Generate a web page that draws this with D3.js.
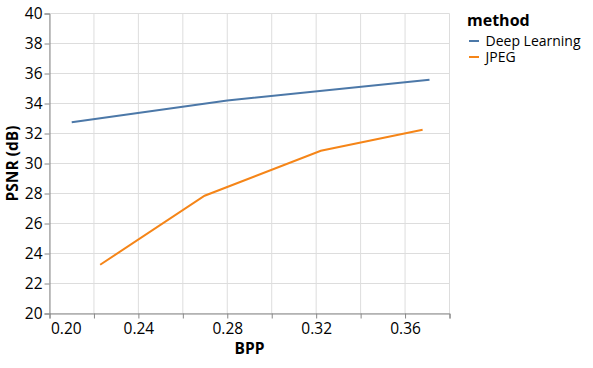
<!DOCTYPE html>
<html><head><meta charset="utf-8">
<script src="https://cdn.jsdelivr.net/npm/d3@7"></script>
<style>body{margin:0;background:#fff}svg{display:block}text{font-family:"Open Sans","Noto Sans",sans-serif;fill:#000}</style>
</head><body>
<svg id="c" width="593" height="368"></svg>
<script>
const methods = ["Deep Learning", "JPEG"];
const colors = ["#4c78a8", "#f58518"];
const dlBpp = [0.21, 0.28, 0.371];
const dlPsnr = [32.75, 34.2, 35.58];
const jpegBpp = [0.2228, 0.2698, 0.3221, 0.3679];
const jpegPsnr = [23.25, 27.85, 30.85, 32.25];
const xTicks = [0.20,0.22,0.24,0.26,0.28,0.30,0.32,0.34,0.36,0.38];
const xLabels = [0.20,0.24,0.28,0.32,0.36];
const yTicks = [20,22,24,26,28,30,32,34,36,38,40];

const svg = d3.select("#c");
const L=49.5, R=449.5, T=13.5, B=313.5;
const x = d3.scaleLinear().domain([0.20,0.38]).range([L,R]);
const y = d3.scaleLinear().domain([20,40]).range([B,T]);
const g = svg.append("g");
// grid
g.selectAll(".gx").data(xTicks).join("line").attr("x1",d=>x(d)).attr("x2",d=>x(d)).attr("y1",T).attr("y2",B).attr("stroke","#ddd");
g.selectAll(".gy").data(yTicks).join("line").attr("y1",d=>y(d)).attr("y2",d=>y(d)).attr("x1",L).attr("x2",R).attr("stroke","#ddd");
// axes
const xa = svg.append("g").attr("transform",`translate(0,${B})`)
  .call(d3.axisBottom(x).tickValues(xTicks).tickSize(5).tickFormat(d=>xLabels.some(v=>Math.abs(v-d)<1e-9)?d3.format(".2f")(d):""));
const ya = svg.append("g").attr("transform",`translate(${L},0)`)
  .call(d3.axisLeft(y).tickValues(yTicks).tickSize(5).tickFormat(d3.format("d")));
[xa,ya].forEach(a=>{a.select(".domain").attr("stroke","#888");a.selectAll(".tick line").attr("stroke","#888");
  a.selectAll("text").attr("font-family",'"Open Sans",sans-serif').attr("font-size",15.5).attr("fill","#000");});
xa.selectAll("text").attr("dy",null).attr("y",20.5);
xa.selectAll(".tick text").filter(d=>Math.abs(d-0.20)<1e-9).attr("text-anchor","start").attr("x",1);
ya.selectAll("text").attr("x",-7).attr("dy","0.35em");
// titles
svg.append("text").attr("x",(L+R)/2).attr("y",353.5).attr("text-anchor","middle").attr("font-weight","bold").attr("font-size",15.5).text("BPP");
svg.append("text").attr("transform",`translate(18,${(T+B)/2}) rotate(-90)`).attr("text-anchor","middle").attr("font-weight","bold").attr("font-size",15.5).text("PSNR (dB)");
// lines
const series = [dlBpp.map((b,i)=>[b,dlPsnr[i]]), jpegBpp.map((b,i)=>[b,jpegPsnr[i]])];
const line = d3.line().x(d=>x(d[0])).y(d=>y(d[1]));
svg.selectAll(".ln").data(series).join("path").attr("d",line).attr("fill","none").attr("stroke",(d,i)=>colors[i]).attr("stroke-width",2);
// legend
const lg = svg.append("g").attr("transform","translate(467,0)");
lg.append("text").attr("x",0).attr("y",25.5).attr("font-weight","bold").attr("font-size",16).text("method");
methods.forEach((m,i)=>{
  const yy = 41 + i*16;
  lg.append("line").attr("x1",2).attr("x2",12).attr("y1",yy).attr("y2",yy).attr("stroke",colors[i]).attr("stroke-width",2);
  lg.append("text").attr("x",18.5).attr("y",yy+4.5).attr("font-size",14).text(m);
});
</script>
</body></html>
